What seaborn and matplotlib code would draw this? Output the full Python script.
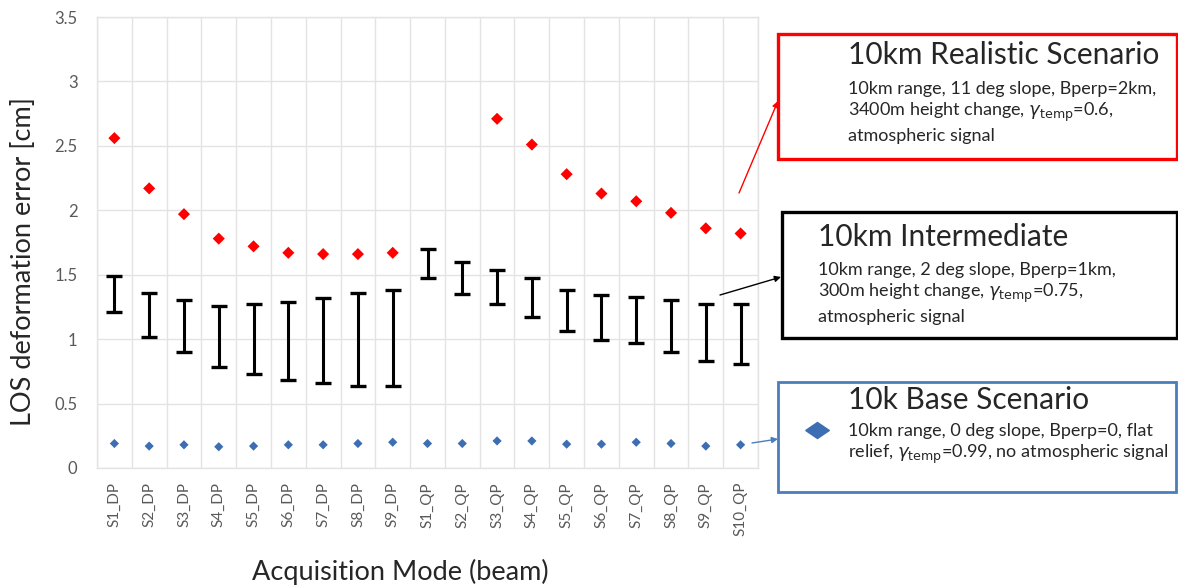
import numpy as np
import pandas as pd
import matplotlib
matplotlib.use("Agg")
import matplotlib.pyplot as plt
import seaborn as sns
from matplotlib.patches import Rectangle, FancyArrowPatch
from matplotlib.lines import Line2D
from matplotlib.ticker import FixedLocator

# ---------------- data ----------------
categories = ['S1_DP', 'S2_DP', 'S3_DP', 'S4_DP', 'S5_DP', 'S6_DP', 'S7_DP', 'S8_DP', 'S9_DP',
              'S1_QP', 'S2_QP', 'S3_QP', 'S4_QP', 'S5_QP', 'S6_QP', 'S7_QP', 'S8_QP', 'S9_QP', 'S10_QP']
realistic = [2.56, 2.17, 1.97, 1.78, 1.72, 1.67, 1.66, 1.66, 1.67,
             np.nan, np.nan, 2.71, 2.51, 2.28, 2.13, 2.07, 1.98, 1.86, 1.82]
inter_low = [1.21, 1.02, 0.90, 0.78, 0.73, 0.68, 0.66, 0.64, 0.64,
             1.475, 1.35, 1.27, 1.17, 1.06, 0.99, 0.97, 0.90, 0.83, 0.81]
inter_high = [1.49, 1.36, 1.30, 1.26, 1.27, 1.29, 1.32, 1.36, 1.38,
              1.70, 1.60, 1.54, 1.475, 1.38, 1.34, 1.33, 1.30, 1.27, 1.27]
base = [0.19, 0.17, 0.18, 0.165, 0.17, 0.18, 0.18, 0.19, 0.20,
        0.19, 0.19, 0.21, 0.21, 0.185, 0.185, 0.20, 0.19, 0.17, 0.18]
y_ticks = [0, 0.5, 1, 1.5, 2, 2.5, 3, 3.5]
y_tick_labels = ['0', '0.5', '1', '1.5', '2', '2.5', '3', '3.5']

df = pd.DataFrame({'mode': categories, 'realistic': realistic, 'low': inter_low,
                   'high': inter_high, 'base': base})
df['pos'] = np.arange(len(df))
df['mid'] = (df['low'] + df['high']) / 2
df['half'] = (df['high'] - df['low']) / 2

# ---------------- style ----------------
sns.set_theme(style='white')
plt.rcParams['font.family'] = ['Lato', 'DejaVu Sans']

W, H = 1178, 588
fig = plt.figure(figsize=(W / 100, H / 100), dpi=100)
ax = fig.add_axes([97 / W, 1 - 468 / H, (758 - 97) / W, (468 - 17) / H])

RED = '#ff0000'
BLUE = '#3d6db3'
GRID = '#e3e3e3'

sns.scatterplot(data=df, x='pos', y='realistic', marker='D', s=38, color=RED,
                edgecolor='none', ax=ax, zorder=3)
sns.scatterplot(data=df, x='pos', y='base', marker='D', s=22, color=BLUE,
                edgecolor='none', ax=ax, zorder=3)
ax.errorbar(df['pos'], df['mid'], yerr=df['half'], fmt='none', ecolor='black',
            elinewidth=2.2, capsize=5.8, capthick=2.4, zorder=4)

ax.set_xlim(-0.5, len(categories) - 0.5)
ax.set_ylim(0, 3.5)
ax.set_yticks(y_ticks)
ax.set_yticklabels(y_tick_labels)
ax.set_xticks(df['pos'])
ax.set_xticklabels(categories, rotation=90)
ax.xaxis.set_minor_locator(FixedLocator(np.arange(-0.5, len(categories), 1)))
ax.grid(which='minor', axis='x', color=GRID, linewidth=1)
ax.grid(which='major', axis='y', color=GRID, linewidth=1)
ax.grid(which='major', axis='x', visible=False)
ax.set_axisbelow(True)
for s in ax.spines.values():
    s.set_color(GRID)
    s.set_linewidth(1)
ax.tick_params(axis='both', which='both', length=0, colors='#595959')
ax.tick_params(axis='x', pad=10, labelsize=11)
ax.tick_params(axis='y', pad=14, labelsize=12)
ax.set_xlabel('Acquisition Mode (beam)', fontsize=19.5, color='#262626')
ax.set_ylabel('LOS deformation error [cm]', fontsize=19.5, color='#262626')
ax.xaxis.label.set_va('center')
ax.yaxis.label.set_va('center')
ax.xaxis.set_label_coords((400 - 97) / (758 - 97), -(572 - 468) / (468 - 17))
ax.yaxis.set_label_coords(-(97 - 24) / (758 - 97), (468 - 262) / (468 - 17))


def fx(x):
    return x / W


def fy(y):
    return 1 - y / H


def box(x0, y0, x1, y1, color, lw):
    fig.add_artist(Rectangle((fx(x0), fy(y1)), fx(x1) - fx(x0), fy(y0) - fy(y1),
                             transform=fig.transFigure, fill=False, edgecolor=color,
                             linewidth=lw, zorder=5))


def arrow(p0, p1, color, lw):
    fig.add_artist(FancyArrowPatch((fx(p0[0]), fy(p0[1])), (fx(p1[0]), fy(p1[1])),
                                   transform=fig.transFigure, arrowstyle='-|>',
                                   mutation_scale=9, color=color, linewidth=lw,
                                   shrinkA=0, shrinkB=0, zorder=6))


TXT = '#262626'
TITLE_FS = 21.5
BODY_FS = 13

# Realistic box
box(778, 34, 1177, 159, RED, 2.4)
fig.text(fx(848), fy(55), '10km Realistic Scenario', fontsize=TITLE_FS, color=TXT,
         va='center', ha='left')
for i, line in enumerate(['10km range, 11 deg slope, Bperp=2km,',
                          r'3400m height change, $\gamma_{\mathrm{temp}}$=0.6,',
                          'atmospheric signal']):
    fig.text(fx(848), fy(89 + 23.5 * i), line, fontsize=BODY_FS, color=TXT,
             va='center', ha='left')
arrow((739, 193), (778, 101), RED, 1.0)

# Intermediate box
box(782, 212, 1177, 338, 'black', 2.4)
fig.text(fx(818), fy(237), '10km Intermediate', fontsize=TITLE_FS, color=TXT,
         va='center', ha='left')
for i, line in enumerate(['10km range, 2 deg slope, Bperp=1km,',
                          r'300m height change, $\gamma_{\mathrm{temp}}$=0.75,',
                          'atmospheric signal']):
    fig.text(fx(818), fy(270 + 23.5 * i), line, fontsize=BODY_FS, color=TXT,
             va='center', ha='left')
arrow((720, 295), (781, 277), 'black', 1.0)

# Base box
box(778, 382, 1176, 492, '#4a7ebb', 2.0)
fig.text(fx(848), fy(400), '10k Base Scenario', fontsize=TITLE_FS, color=TXT,
         va='center', ha='left')
for i, line in enumerate(['10km range, 0 deg slope, Bperp=0, flat',
                          r'relief, $\gamma_{\mathrm{temp}}$=0.99, no atmospheric signal']):
    fig.text(fx(848), fy(431 + 23.5 * i), line, fontsize=BODY_FS, color=TXT,
             va='center', ha='left')
fig.add_artist(Line2D([fx(817)], [fy(430)], transform=fig.transFigure,
                      marker=[(-1, 0), (0, 0.68), (1, 0), (0, -0.68), (-1, 0)],
                      markersize=17, color=BLUE, markeredgecolor=BLUE, zorder=6))
arrow((752, 443), (778, 439), '#4a7ebb', 1.0)

fig.savefig('out.png', dpi=100)
